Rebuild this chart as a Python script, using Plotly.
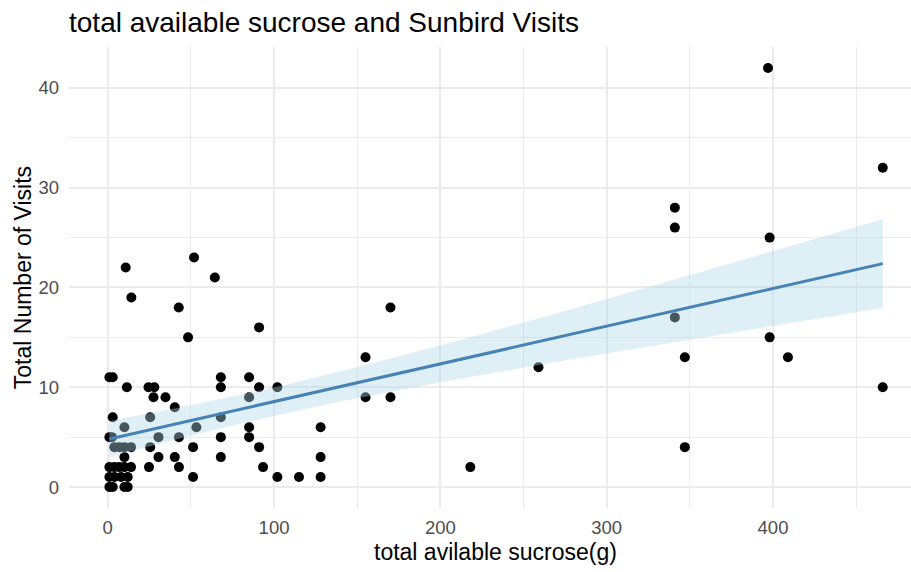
import numpy as np
import plotly.graph_objects as go

# --- data (total available sucrose g, total visits) ---
sucrose = [
    # dense cluster near zero
    1, 3, 11.5, 3, 10, 1, 2.5, 4, 7, 10, 14, 10, 1, 4, 7, 10, 14, 1, 4, 8, 12, 1, 3, 10, 12,
    # upper-left scatter
    10.8, 14.2, 51.9, 64.4, 42.7, 91, 48.3,
    # y = 11 .. 1 column-ish points
    68, 85,
    24.5, 28, 68, 91, 102,
    27.5, 34.7, 85,
    40.3,
    25.5, 68,
    53.3, 85, 128,
    30.5, 42.8, 68, 85,
    25.5, 51.3, 91,
    30.5, 40.3, 68, 128,
    24.8, 42.8, 93.4, 218,
    51.3, 102, 115, 128,
    # right side
    155, 155, 170, 170, 259, 341, 341, 341, 347, 347, 397, 398, 398, 409, 466, 466,
]
visits = [
    11, 11, 10, 7, 6, 5, 5, 4, 4, 4, 4, 3, 2, 2, 2, 2, 2, 1, 1, 1, 1, 0, 0, 0, 0,
    22, 19, 23, 21, 18, 16, 15,
    11, 11,
    10, 10, 10, 10, 10,
    9, 9, 9,
    8,
    7, 7,
    6, 6, 6,
    5, 5, 5, 5,
    4, 4, 4,
    3, 3, 3, 3,
    2, 2, 2, 2,
    1, 1, 1, 1,
    13, 9, 18, 9, 12, 28, 26, 17, 13, 4, 42, 25, 15, 13, 32, 10,
]

x_ticks = [0, 100, 200, 300, 400]
y_ticks = [0, 10, 20, 30, 40]

title_text = "total available sucrose and Sunbird Visits"
x_title = "total avilable sucrose(g)"
y_title = "Total Number of Visits"

# --- linear model with 95% confidence band (like geom_smooth(method="lm")) ---
x = np.asarray(sucrose, float)
y = np.asarray(visits, float)
n = len(x)
xbar, ybar = x.mean(), y.mean()
sxx = ((x - xbar) ** 2).sum()
slope = ((x - xbar) * (y - ybar)).sum() / sxx
icpt = ybar - slope * xbar
resid = y - (icpt + slope * x)
s = np.sqrt((resid ** 2).sum() / (n - 2))
tcrit = 1.983
xs = np.linspace(x.min(), x.max(), 80)
fit = icpt + slope * xs
se = s * np.sqrt(1 / n + (xs - xbar) ** 2 / sxx)
lo, hi = fit - tcrit * se, fit + tcrit * se

FONT = "Liberation Sans, Arial, sans-serif"

fig = go.Figure()
fig.add_trace(go.Scatter(x=sucrose, y=visits, mode="markers",
                         marker=dict(color="black", size=10, line=dict(width=0)),
                         hoverinfo="x+y", showlegend=False))
fig.add_trace(go.Scatter(x=np.concatenate([xs, xs[::-1]]),
                         y=np.concatenate([hi, lo[::-1]]),
                         fill="toself", fillcolor="rgba(173,216,230,0.4)",
                         line=dict(width=0), mode="lines", hoverinfo="skip",
                         showlegend=False))
fig.add_trace(go.Scatter(x=xs, y=fit, mode="lines",
                         line=dict(color="#4682B4", width=3), showlegend=False))

W, H = 911, 572
L, R, T, B = 69.3, 0, 46.5, 63.5
px_per_unit = 1.6625
x0 = -23.3
x1 = x0 + (W - L - R) / px_per_unit

axis_common = dict(
    showline=False, zeroline=False, ticks="",
    showgrid=True, gridcolor="#EBEBEB", gridwidth=1.6,
    tickfont=dict(family=FONT, size=18.5, color="#4D4D4D"),
)

fig.update_layout(
    width=W, height=H,
    margin=dict(l=L, r=R, t=T, b=B, pad=0),
    paper_bgcolor="white", plot_bgcolor="white",
    font=dict(family=FONT, color="black"),
    title=dict(text=title_text, font=dict(family=FONT, size=28, color="black"),
               xref="paper", x=0.0, xanchor="left",
               yref="container", y=1 - 32 / H, yanchor="bottom"),
    xaxis=dict(range=[x0, x1], tickvals=x_ticks, ticklabelstandoff=6,
               minor=dict(dtick=50, tick0=0, showgrid=True, gridcolor="#EBEBEB", gridwidth=0.8),
               **axis_common),
    yaxis=dict(range=[-2.1, 44.1], tickvals=y_ticks, ticklabelstandoff=9,
               minor=dict(dtick=5, tick0=0, showgrid=True, gridcolor="#EBEBEB", gridwidth=0.8),
               **axis_common),
    annotations=[
        dict(text=x_title, xref="paper", yref="paper",
             x=(495.7 - L) / (W - L - R), y=-(568 - (H - B)) / (H - T - B),
             xanchor="center", yanchor="bottom", showarrow=False,
             font=dict(family=FONT, size=23, color="black")),
        dict(text=y_title, xref="paper", yref="paper",
             x=-(L - 8) / (W - L - R), y=0.5, textangle=-90,
             xanchor="left", yanchor="middle", showarrow=False,
             font=dict(family=FONT, size=23, color="black")),
    ],
)

fig.write_html("out.html")
